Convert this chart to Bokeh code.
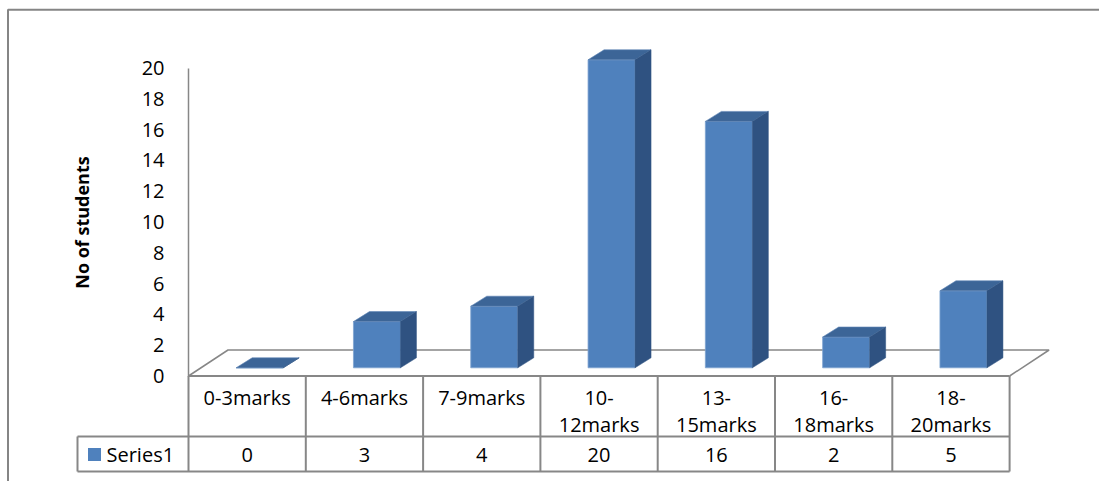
from bokeh.plotting import figure
from bokeh.models import LinearAxis, FixedTicker, Range1d, ColumnDataSource
from bokeh.core.properties import value
from bokeh.embed import file_html
from bokeh.resources import INLINE

# ---- data -------------------------------------------------------------
categories = ["0-3marks", "4-6marks", "7-9marks", "10-\n12marks",
              "13-\n15marks", "16-\n18marks", "18-\n20marks"]
students = [0, 3, 4, 20, 16, 2, 5]
series_name = "Series1"
y_ticks = [0, 2, 4, 6, 8, 10, 12, 14, 16, 18, 20]
y_title = "No of students"

# ---- layout constants (pixels) ----------------------------------------
W, H = 1099, 481
PX_X = 117.3      # pixels per category column
PX_Y = 15.4       # pixels per student
X0_PX = 188.0     # left edge of the first column
Y0_PX = 375.5     # front edge of the floor / top of the data table

FONT = "Open Sans"
GRID_COLOR = "#878787"
FRONT = "#4F81BD"
TOP = "#3C6597"
SIDE = "#2F5281"


def sx(px):
    """horizontal pixel distance -> category units"""
    return px / PX_X


def sy(px):
    """vertical pixel distance -> student units"""
    return px / PX_Y


p = figure(width=W, height=H, output_backend="svg", toolbar_location=None,
           x_axis_type=None, y_axis_type=None,
           x_range=Range1d(-sx(X0_PX), sx(W - X0_PX)),
           y_range=Range1d(-sy(H - Y0_PX), sy(Y0_PX)),
           min_border=0, outline_line_color=None,
           background_fill_color="white", border_fill_color="white")
p.xgrid.visible = False
p.ygrid.visible = False

n = len(categories)

# ---- chart area border -------------------------------------------------
bx = -sx(X0_PX - 7.5)
by = sy(Y0_PX - 9.3)
p.line([bx, bx, sx(W - X0_PX) + 1], [-sy(H - Y0_PX) - 1, by, by],
       line_color="#858585", line_width=2)

# ---- 3D floor ----------------------------------------------------------
fdx, fdy = sx(39.5), sy(26)
p.line([0, fdx, n + fdx, n], [0, fdy, fdy, 0],
       line_color=GRID_COLOR, line_width=1.5)

# ---- 3D columns --------------------------------------------------------
bar_w = sx(47)
bar_off = sx(12.5)
base = sy(8.2)
ddx, ddy = sx(16), sy(10)

lefts = [i + 0.5 + bar_off - bar_w / 2 for i in range(n)]
rights = [l + bar_w for l in lefts]
tops = [base + v for v in students]

src = ColumnDataSource(dict(left=lefts, right=rights,
                            bottom=[base] * n, top=tops,
                            cat=categories, students=students))
p.quad(left="left", right="right", bottom="bottom", top="top", source=src,
       fill_color=FRONT, line_color="#7FA3D1", line_width=0.8)

top_xs = [[l, r, r + ddx, l + ddx] for l, r in zip(lefts, rights)]
top_ys = [[t, t, t + ddy, t + ddy] for t in tops]
p.patches(top_xs, top_ys, fill_color=TOP, line_color="#5E84B5", line_width=0.6)

side_xs = [[r, r + ddx, r + ddx, r] for r in rights]
side_ys = [[base, base + ddy, t + ddy, t] for t in tops]
p.patches(side_xs, side_ys, fill_color=SIDE, line_color=SIDE, line_width=0.5)

# ---- value axis --------------------------------------------------------
yaxis = LinearAxis(fixed_location=0, bounds=(0, 20),
                   ticker=FixedTicker(ticks=y_ticks),
                   axis_label=y_title,
                   axis_label_text_font=FONT,
                   axis_label_text_font_size="18px",
                   axis_label_text_font_style="bold",
                   axis_label_text_color="black",
                   axis_label_standoff=45,
                   major_label_text_font=FONT,
                   major_label_text_font_size="20px",
                   major_label_text_color="black",
                   major_label_standoff=24,
                   major_tick_line_color=None,
                   major_tick_in=0, major_tick_out=0,
                   minor_tick_line_color=None,
                   axis_line_color=GRID_COLOR, axis_line_width=1.5)
p.add_layout(yaxis, "left")

# ---- data table --------------------------------------------------------
row1 = -sy(436 - Y0_PX)
row2 = -sy(471 - Y0_PX)
key_left = -sx(X0_PX - 77)

h_xs = [[0, n], [key_left, n], [key_left, n]]
h_ys = [[0, 0], [row1, row1], [row2, row2]]
v_xs = [[i, i] for i in range(n + 1)] + [[key_left, key_left]]
v_ys = [[0, row2] for _ in range(n + 1)] + [[row1, row2]]
p.multi_line(h_xs + v_xs, h_ys + v_ys, line_color=GRID_COLOR, line_width=2)

centers = [i + 0.5 for i in range(n)]
p.text(x=centers, y=[-sy(383 - Y0_PX)] * n, text=categories,
       text_font=value(FONT), text_font_size="20px", text_color="black",
       text_align="center", text_baseline="top", text_line_height=1.02)
p.text(x=centers, y=[-sy(454 - Y0_PX)] * n, text=[str(v) for v in students],
       text_font=value(FONT), text_font_size="20px", text_color="black",
       text_align="center", text_baseline="middle")

# series key inside the table
key_y = -sy(454 - Y0_PX)
p.scatter(x=[-sx(X0_PX - 94)], y=[key_y], marker="square", size=13,
          fill_color=FRONT, line_color=None)
p.text(x=[-sx(X0_PX - 106)], y=[key_y], text=[series_name],
       text_font=value(FONT), text_font_size="20px", text_color="black",
       text_align="left", text_baseline="middle")

open("out.html", "w").write(file_html(p, INLINE))
